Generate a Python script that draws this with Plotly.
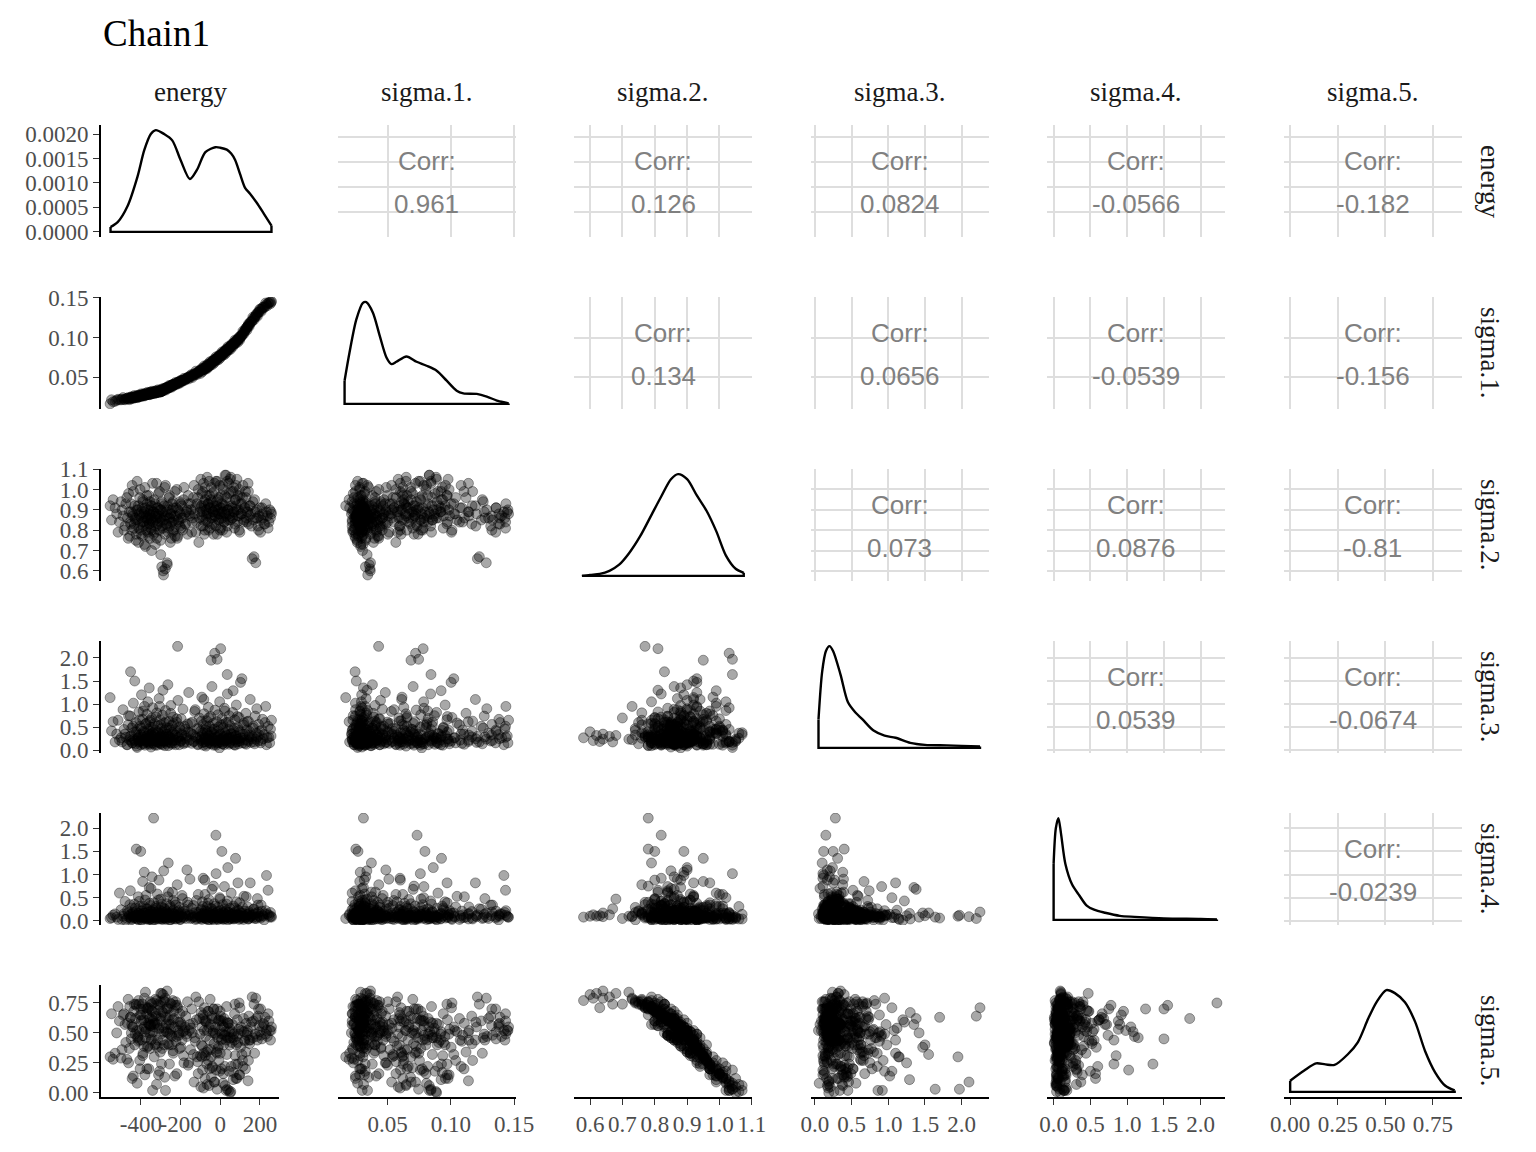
import plotly.graph_objects as go

# ---------------- data ----------------
var_labels = ["energy", "sigma.1.", "sigma.2.", "sigma.3.", "sigma.4.", "sigma.5."]

energy = [
    -555, -540, -522, -508, -495, -485, -476, -468, -462, -456,
    -452, -448, -444, -440, -436, -431, -427, -423, -419, -415,
    -412, -409, -406, -403, -401, -398, -395, -392, -389, -386,
    -383, -380, -377, -374, -371, -368, -365, -362, -360, -357,
    -355, -353, -351, -349, -347, -345, -342, -339, -336, -333,
    -330, -327, -324, -321, -318, -315, -312, -309, -306, -303,
    -301, -299, -297, -295, -292, -289, -286, -283, -280, -277,
    -274, -271, -268, -265, -262, -259, -256, -253, -250, -247,
    -244, -241, -238, -235, -231, -227, -223, -219, -215, -211,
    -207, -203, -199, -195, -190, -185, -180, -174, -168, -162,
    -156, -150, -144, -138, -132, -126, -120, -114, -108, -102,
    -98, -95, -92, -89, -86, -83, -80, -77, -74, -71,
    -68, -65, -62, -59, -56, -53, -49, -46, -43, -40,
    -37, -34, -31, -28, -25, -22, -19, -16, -13, -10,
    -7, -4, -1, 2, 5, 8, 11, 14, 17, 20,
    23, 26, 29, 32, 35, 38, 41, 44, 47, 50,
    53, 57, 61, 65, 68, 72, 75, 79, 82, 86,
    89, 93, 96, 99, 102, 107, 112, 117, 122, 127,
    131, 136, 140, 144, 148, 155, 161, 167, 173, 179,
    184, 190, 196, 203, 210, 217, 225, 233, 245, 258,
    -548, -530, -515, -500, -490, -480, -471, -464, -458, -453,
    -449, -446, -442, -438, -433, -429, -425, -421, -417, -413,
    -410, -407, -404, -400, -397, -394, -391, -388, -385, -382,
    -379, -376, -373, -370, -367, -364, -361, -358, -356, -354,
    -352, -350, -348, -346, -344, -341, -338, -335, -332, -329,
    -326, -323, -320, -317, -314, -311, -308, -305, -302, -300,
    -298, -296, -294, -291, -288, -285, -282, -279, -276, -273,
    -270, -267, -264, -261, -258, -255, -252, -249, -246, -243,
    -240, -237, -233, -229, -225, -221, -217, -213, -209, -205,
    -201, -197, -193, -188, -183, -177, -171, -165, -159, -153,
    -147, -141, -135, -129, -123, -117, -111, -105, -100, -96,
    -93, -90, -87, -84, -81, -78, -75, -72, -69, -66,
    -63, -60, -57, -54, -51, -48, -45, -42, -39, -36,
    -33, -30, -27, -24, -21, -18, -15, -12, -9, -6,
    -3, 0, 3, 6, 9, 12, 15, 18, 21, 24,
    27, 30, 33, 36, 39, 42, 45, 48, 51, 55,
    59, 63, 67, 70, 74, 77, 81, 84, 88, 91,
    95, 98, 104, 109, 114, 119, 124, 129, 134, 138,
    142, 146, 151, 158, 164, 170, 176, 182, 187, 193,
    199, 206, 213, 221, 229, 237, 241, 249, 253, 256,
]

sigma1 = [
    0.0168, 0.0195, 0.0213, 0.0219, 0.0225, 0.0222, 0.0232, 0.0235, 0.0228, 0.0240,
    0.0242, 0.0238, 0.0245, 0.0250, 0.0240, 0.0252, 0.0258, 0.0248, 0.0262, 0.0255,
    0.0260, 0.0268, 0.0263, 0.0270, 0.0265, 0.0272, 0.0275, 0.0268, 0.0280, 0.0276,
    0.0283, 0.0278, 0.0286, 0.0282, 0.0290, 0.0285, 0.0292, 0.0288, 0.0295, 0.0290,
    0.0298, 0.0293, 0.0300, 0.0296, 0.0302, 0.0299, 0.0305, 0.0300, 0.0308, 0.0304,
    0.0310, 0.0306, 0.0313, 0.0309, 0.0316, 0.0312, 0.0319, 0.0315, 0.0322, 0.0318,
    0.0325, 0.0321, 0.0328, 0.0324, 0.0332, 0.0336, 0.0342, 0.0353, 0.0349, 0.0360,
    0.0357, 0.0367, 0.0364, 0.0374, 0.0371, 0.0382, 0.0378, 0.0389, 0.0385, 0.0396,
    0.0393, 0.0403, 0.0400, 0.0410, 0.0409, 0.0420, 0.0418, 0.0430, 0.0428, 0.0439,
    0.0437, 0.0449, 0.0447, 0.0458, 0.0457, 0.0470, 0.0469, 0.0484, 0.0485, 0.0498,
    0.0505, 0.0518, 0.0512, 0.0532, 0.0531, 0.0550, 0.0548, 0.0566, 0.0564, 0.0582,
    0.0583, 0.0592, 0.0588, 0.0601, 0.0597, 0.0610, 0.0605, 0.0619, 0.0614, 0.0628,
    0.0622, 0.0639, 0.0633, 0.0650, 0.0644, 0.0661, 0.0668, 0.0684, 0.0679, 0.0696,
    0.0691, 0.0708, 0.0703, 0.0720, 0.0715, 0.0732, 0.0727, 0.0744, 0.0739, 0.0756,
    0.0751, 0.0768, 0.0763, 0.0780, 0.0776, 0.0794, 0.0789, 0.0807, 0.0802, 0.0820,
    0.0816, 0.0833, 0.0829, 0.0846, 0.0842, 0.0860, 0.0855, 0.0873, 0.0868, 0.0886,
    0.0882, 0.0903, 0.0901, 0.0922, 0.0918, 0.0939, 0.0935, 0.0956, 0.0952, 0.0972,
    0.0969, 0.0989, 0.0985, 0.1004, 0.1001, 0.1031, 0.1037, 0.1067, 0.1073, 0.1103,
    0.1106, 0.1136, 0.1138, 0.1164, 0.1167, 0.1202, 0.1209, 0.1240, 0.1248, 0.1279,
    0.1283, 0.1314, 0.1321, 0.1353, 0.1356, 0.1383, 0.1388, 0.1418, 0.1432, 0.1455,
    0.0219, 0.0199, 0.0225, 0.0218, 0.0246, 0.0219, 0.0234, 0.0246, 0.0221, 0.0245,
    0.0256, 0.0231, 0.0255, 0.0245, 0.0272, 0.0244, 0.0259, 0.0270, 0.0246, 0.0269,
    0.0280, 0.0255, 0.0278, 0.0268, 0.0294, 0.0266, 0.0279, 0.0290, 0.0265, 0.0288,
    0.0299, 0.0274, 0.0296, 0.0286, 0.0312, 0.0284, 0.0298, 0.0308, 0.0283, 0.0305,
    0.0315, 0.0289, 0.0311, 0.0301, 0.0326, 0.0298, 0.0311, 0.0322, 0.0297, 0.0320,
    0.0331, 0.0305, 0.0328, 0.0318, 0.0344, 0.0316, 0.0329, 0.0340, 0.0315, 0.0337,
    0.0347, 0.0322, 0.0344, 0.0334, 0.0362, 0.0335, 0.0351, 0.0364, 0.0340, 0.0365,
    0.0377, 0.0354, 0.0379, 0.0370, 0.0398, 0.0371, 0.0387, 0.0400, 0.0376, 0.0401,
    0.0413, 0.0390, 0.0416, 0.0409, 0.0437, 0.0412, 0.0429, 0.0443, 0.0421, 0.0446,
    0.0460, 0.0438, 0.0464, 0.0458, 0.0488, 0.0465, 0.0484, 0.0501, 0.0481, 0.0509,
    0.0534, 0.0498, 0.0541, 0.0529, 0.0578, 0.0536, 0.0565, 0.0588, 0.0550, 0.0592,
    0.0613, 0.0573, 0.0613, 0.0599, 0.0644, 0.0600, 0.0625, 0.0645, 0.0606, 0.0646,
    0.0667, 0.0627, 0.0667, 0.0653, 0.0698, 0.0654, 0.0680, 0.0701, 0.0662, 0.0703,
    0.0724, 0.0685, 0.0726, 0.0712, 0.0758, 0.0714, 0.0740, 0.0761, 0.0722, 0.0763,
    0.0784, 0.0745, 0.0787, 0.0773, 0.0820, 0.0776, 0.0803, 0.0825, 0.0786, 0.0828,
    0.0849, 0.0811, 0.0853, 0.0839, 0.0886, 0.0842, 0.0869, 0.0891, 0.0852, 0.0897,
    0.0922, 0.0886, 0.0931, 0.0918, 0.0968, 0.0925, 0.0954, 0.0977, 0.0941, 0.0983,
    0.1008, 0.0970, 0.1024, 0.1022, 0.1080, 0.1048, 0.1086, 0.1119, 0.1092, 0.1142,
    0.1171, 0.1141, 0.1193, 0.1196, 0.1255, 0.1224, 0.1263, 0.1297, 0.1268, 0.1323,
    0.1357, 0.1328, 0.1379, 0.1376, 0.1434, 0.1401, 0.1431, 0.1450, 0.1426, 0.1445,
]

sigma2 = [
    0.92, 0.95, 0.88, 0.84, 0.90, 0.80, 0.93, 0.86, 0.98, 0.77,
    0.83, 0.89, 1.02, 0.87, 0.81, 0.92, 0.85, 0.78, 1.04, 0.90,
    0.74, 0.88, 0.96, 0.83, 0.80, 0.86, 0.91, 0.77, 0.94, 0.84,
    0.89, 1.01, 0.72, 0.87, 0.82, 0.93, 0.79, 0.86, 0.97, 0.83,
    0.88, 0.76, 0.90, 0.85, 0.80, 0.92, 0.84, 0.89, 0.78, 0.95,
    0.87, 0.73, 0.82, 1.03, 0.86, 0.91, 0.80, 0.88, 0.99, 0.84,
    0.75, 0.90, 0.85, 0.62, 0.93, 0.81, 0.58, 0.87, 1.01, 0.61,
    0.83, 0.89, 0.64, 0.92, 0.79, 0.86, 0.97, 0.82, 0.88, 0.76,
    0.90, 0.84, 0.94, 0.80, 0.87, 0.77, 0.91, 1.00, 0.77, 0.85,
    0.89, 0.82, 0.93, 0.86, 0.80, 0.95, 0.88, 0.83, 0.90, 0.97,
    0.88, 0.93, 0.79, 0.86, 1.02, 0.91, 0.84, 0.96, 0.74, 0.89,
    1.05, 0.92, 0.87, 0.99, 0.82, 0.94, 0.78, 1.01, 0.90, 0.85,
    0.97, 0.88, 0.93, 0.80, 1.04, 0.91, 0.86, 0.95, 0.83, 0.98,
    0.89, 0.78, 0.92, 1.03, 0.87, 0.82, 0.94, 1.04, 0.90, 0.85,
    0.96, 0.88, 0.80, 0.81, 0.91, 0.89, 0.86, 1.02, 0.92, 0.84,
    0.97, 0.88, 1.07, 0.79, 1.04, 0.90, 0.85, 0.98, 0.87, 1.05,
    1.06, 0.92, 0.86, 0.99, 0.89, 0.81, 0.95, 1.02, 0.90, 0.84,
    0.97, 0.87, 1.00, 0.79, 0.93, 0.88, 0.96, 0.84, 0.91, 0.99,
    0.86, 0.89, 1.03, 0.83, 0.92, 0.88, 0.66, 0.85, 0.95, 0.64,
    0.90, 0.82, 0.87, 0.79, 0.91, 0.86, 0.83, 0.89, 0.84, 0.88,
    0.85, 0.91, 0.79, 0.94, 0.87, 0.82, 0.96, 0.76, 0.89, 0.84,
    0.93, 0.80, 0.88, 0.99, 0.83, 0.86, 0.75, 0.90, 0.85, 0.92,
    0.81, 0.87, 1.00, 0.78, 0.89, 0.84, 0.95, 0.82, 0.88, 0.73,
    0.91, 0.86, 0.80, 0.97, 0.85, 0.90, 0.77, 0.88, 0.83, 0.94,
    0.87, 0.81, 0.92, 0.70, 0.86, 1.03, 0.84, 0.89, 0.79, 0.93,
    0.85, 0.88, 0.76, 0.91, 0.83, 0.98, 0.87, 0.80, 0.90, 0.68,
    0.86, 0.94, 0.82, 0.89, 0.60, 0.85, 0.92, 0.78, 1.02, 0.87,
    0.83, 0.63, 0.90, 0.81, 0.96, 0.86, 0.74, 0.88, 0.84, 0.93,
    0.79, 0.91, 0.85, 0.99, 0.82, 0.87, 0.76, 0.90, 0.84, 0.94,
    0.88, 0.81, 0.92, 0.86, 1.01, 0.83, 0.89, 0.78, 0.93, 0.87,
    0.90, 0.84, 0.96, 0.88, 0.79, 0.93, 1.00, 0.86, 0.91, 0.82,
    0.98, 0.89, 0.85, 1.03, 0.92, 0.80, 0.95, 0.87, 0.90, 1.06,
    0.84, 0.93, 0.88, 0.97, 0.81, 0.91, 1.01, 0.86, 0.94, 0.89,
    0.83, 0.99, 0.90, 0.87, 1.04, 0.92, 0.78, 0.95, 0.88, 0.85,
    1.02, 0.91, 0.86, 0.97, 0.93, 0.80, 1.00, 0.89, 0.84, 1.07,
    0.92, 0.87, 0.96, 0.82, 0.90, 1.03, 0.88, 0.94, 0.85, 0.99,
    0.91, 0.86, 1.01, 0.89, 0.83, 0.95, 0.92, 1.05, 0.87, 0.90,
    0.80, 0.97, 0.88, 0.93, 1.02, 0.85, 0.91, 0.96, 0.84, 0.89,
    0.99, 0.87, 0.92, 0.82, 0.94, 0.67, 0.89, 0.86, 0.86, 0.80,
    0.91, 0.85, 0.88, 0.83, 0.93, 0.87, 0.81, 0.90, 0.86, 0.89,
]

sigma3 = [
    1.14, 0.62, 0.35, 0.22, 0.18, 0.45, 0.28, 0.12, 0.75, 0.30,
    1.70, 0.20, 0.16, 0.52, 0.24, 1.50, 0.14, 0.40, 0.06, 0.26,
    0.33, 0.18, 0.66, 0.21, 0.12, 0.48, 0.20, 0.29, 0.85, 0.15,
    0.38, 0.11, 0.24, 0.58, 0.19, 0.31, 1.05, 0.13, 0.42, 0.22,
    0.17, 0.65, 0.27, 0.07, 0.36, 0.21, 0.16, 0.50, 0.28, 0.14,
    0.34, 0.23, 0.72, 0.19, 0.11, 0.40, 0.25, 0.17, 0.95, 0.30,
    0.14, 0.55, 0.20, 0.32, 0.12, 1.30, 0.27, 0.18, 0.44, 0.21,
    0.62, 0.15, 0.35, 0.23, 0.10, 0.48, 0.29, 0.17, 0.80, 0.26,
    0.13, 0.39, 0.20, 0.58, 0.16, 0.33, 0.22, 0.68, 2.25, 0.28,
    0.12, 0.45, 0.19, 0.36, 0.24, 0.14, 0.52, 0.31, 0.17, 0.40,
    0.22, 0.58, 0.15, 0.34, 0.19, 0.88, 0.26, 0.12, 0.47, 0.29,
    0.21, 0.63, 0.16, 0.38, 0.11, 1.10, 0.24, 0.30, 0.18, 0.53,
    0.13, 0.41, 0.25, 0.70, 0.17, 0.32, 0.20, 1.95, 0.14, 0.45,
    0.23, 0.11, 0.36, 2.10, 0.19, 0.15, 0.28, 1.97, 0.16, 0.50,
    0.22, 0.05, 0.33, 2.20, 0.18, 0.25, 0.14, 0.56, 0.27, 0.12,
    0.85, 0.21, 0.34, 0.17, 1.64, 0.24, 0.61, 0.13, 0.29, 0.19,
    0.26, 0.36, 0.15, 1.29, 0.22, 0.48, 0.11, 0.32, 0.18, 0.73,
    0.25, 0.14, 0.43, 0.20, 1.47, 0.27, 0.16, 0.55, 0.22, 0.35,
    0.13, 0.62, 0.19, 0.29, 0.41, 0.17, 0.30, 0.52, 0.14, 0.24,
    0.90, 0.20, 0.33, 0.16, 0.44, 0.25, 0.60, 0.12, 0.28, 0.65,
    0.42, 0.18, 0.65, 0.27, 0.88, 0.35, 0.12, 0.55, 0.23, 0.74,
    0.31, 0.48, 0.16, 1.02, 0.39, 0.21, 0.60, 0.09, 0.45, 0.28,
    0.83, 0.19, 0.52, 0.34, 1.20, 0.25, 0.67, 0.14, 0.41, 0.95,
    0.22, 0.57, 0.30, 0.78, 0.17, 0.46, 0.36, 1.35, 0.26, 0.62,
    0.13, 0.50, 0.33, 0.70, 0.20, 0.92, 0.38, 0.24, 0.58, 0.11,
    0.44, 0.29, 0.81, 0.18, 0.53, 0.37, 1.12, 0.23, 0.66, 0.32,
    0.15, 0.47, 0.27, 0.76, 0.40, 0.21, 0.59, 0.10, 0.86, 0.35,
    0.49, 0.19, 1.42, 0.30, 0.63, 0.25, 0.43, 0.97, 0.16, 0.54,
    0.34, 0.72, 0.22, 0.45, 0.12, 0.61, 0.38, 1.08, 0.28, 0.51,
    0.20, 0.68, 0.33, 0.89, 0.17, 0.46, 0.26, 0.57, 1.25, 0.39,
    0.36, 0.61, 0.19, 0.84, 0.29, 0.47, 0.13, 0.70, 0.41, 0.24,
    1.15, 0.33, 0.56, 0.18, 0.79, 0.27, 0.44, 0.09, 0.64, 0.37,
    0.22, 0.93, 0.31, 0.52, 0.15, 0.73, 0.40, 1.38, 0.26, 0.58,
    0.20, 0.46, 0.87, 0.34, 0.11, 0.62, 0.29, 0.77, 0.42, 0.17,
    1.05, 0.35, 0.55, 0.23, 0.69, 0.14, 0.49, 0.30, 0.91, 0.38,
    0.21, 0.60, 0.32, 1.22, 0.26, 0.45, 0.75, 0.16, 0.53, 0.36,
    0.28, 0.82, 0.43, 0.12, 0.66, 0.31, 0.98, 0.24, 0.50, 0.19,
    0.71, 0.39, 0.27, 1.55, 0.35, 0.59, 0.15, 0.80, 0.44, 0.22,
    0.63, 0.33, 1.10, 0.25, 0.48, 0.18, 0.74, 0.37, 0.29, 0.56,
    0.41, 0.21, 0.67, 0.34, 0.95, 0.27, 0.52, 0.16, 0.46, 0.31,
]

sigma4 = [
    0.05, 0.12, 0.08, 0.60, 0.03, 0.15, 0.01, 0.22, 0.09, 0.35,
    0.06, 0.14, 0.04, 0.18, 0.07, 0.11, 0.28, 1.55, 0.05, 0.16,
    0.02, 0.42, 0.08, 0.13, 1.50, 0.03, 0.21, 0.06, 0.09, 0.32,
    1.05, 0.17, 0.10, 0.55, 0.04, 0.26, 0.07, 0.12, 0.03, 0.38,
    0.08, 0.15, 0.05, 0.70, 0.11, 0.19, 0.01, 0.24, 2.22, 0.06,
    0.14, 0.09, 0.31, 0.04, 0.18, 0.07, 0.45, 0.88, 0.12, 0.09,
    0.22, 0.05, 0.36, 0.10, 0.16, 0.04, 0.08, 0.27, 0.06, 0.13,
    0.03, 0.20, 0.09, 0.52, 1.25, 0.14, 0.07, 0.33, 0.02, 0.17,
    0.10, 0.62, 0.05, 0.23, 0.08, 0.40, 0.12, 0.04, 0.19, 0.07,
    0.29, 0.03, 0.15, 0.09, 0.48, 0.06, 0.21, 0.11, 1.10, 0.34,
    0.13, 0.05, 0.27, 0.09, 0.16, 0.03, 0.44, 0.07, 0.18, 0.10,
    0.05, 0.23, 0.08, 0.31, 0.92, 0.14, 0.06, 0.57, 0.11, 0.04,
    0.20, 0.08, 0.38, 0.12, 0.03, 0.16, 0.07, 0.10, 0.26, 0.05,
    0.13, 0.75, 0.01, 0.09, 0.32, 1.85, 0.06, 0.12, 0.04, 0.21,
    0.08, 0.15, 0.47, 0.05, 0.10, 1.50, 0.07, 0.03, 0.18, 0.09,
    0.26, 0.05, 0.14, 0.36, 0.08, 1.15, 0.19, 0.11, 0.05, 0.09,
    0.04, 0.13, 0.07, 0.16, 0.04, 0.28, 0.10, 0.06, 0.41, 0.09,
    0.82, 0.22, 0.12, 0.05, 0.17, 0.08, 0.30, 0.03, 0.11, 0.07,
    0.52, 0.14, 0.04, 0.20, 0.06, 0.09, 0.13, 0.25, 0.05, 0.17,
    0.08, 0.34, 0.11, 0.06, 0.21, 0.10, 0.15, 0.98, 0.12, 0.08,
    0.07, 0.15, 0.03, 0.24, 0.10, 0.42, 0.05, 0.18, 0.12, 0.65,
    0.02, 0.28, 0.09, 0.14, 0.36, 0.06, 0.20, 0.11, 0.04, 0.52,
    0.16, 0.08, 0.31, 0.13, 0.01, 0.22, 0.85, 0.07, 0.17, 0.10,
    0.45, 0.04, 0.26, 0.12, 0.06, 0.19, 0.09, 0.72, 0.14, 0.03,
    0.33, 0.08, 0.21, 0.05, 0.95, 0.15, 0.11, 0.39, 0.02, 0.18,
    0.07, 0.27, 0.13, 0.58, 0.09, 0.04, 0.23, 0.16, 0.06, 0.47,
    0.12, 0.30, 0.03, 0.19, 0.10, 1.08, 0.07, 0.25, 0.14, 0.05,
    0.37, 0.11, 0.08, 0.62, 0.17, 0.02, 0.29, 0.13, 0.06, 0.20,
    0.09, 0.44, 0.15, 0.04, 0.34, 0.10, 0.78, 0.07, 0.22, 0.12,
    0.03, 0.18, 0.55, 0.08, 0.26, 0.14, 0.05, 0.40, 0.11, 0.90,
    0.12, 0.06, 0.33, 0.09, 0.19, 0.04, 0.57, 0.14, 0.08, 0.25,
    0.03, 0.41, 0.11, 0.17, 0.07, 0.88, 0.22, 0.05, 0.13, 0.31,
    0.10, 0.02, 0.46, 0.16, 0.08, 0.27, 0.12, 0.68, 0.04, 0.20,
    0.15, 0.37, 0.06, 0.11, 1.02, 0.18, 0.09, 0.29, 0.03, 0.14,
    0.50, 0.07, 0.23, 0.12, 0.05, 0.35, 0.16, 0.10, 0.74, 0.04,
    0.21, 0.13, 0.08, 0.43, 0.02, 0.18, 0.11, 0.27, 0.06, 0.60,
    0.15, 0.09, 0.32, 0.05, 0.19, 1.35, 0.12, 0.07, 0.24, 0.14,
    0.03, 0.39, 0.10, 0.17, 0.06, 0.53, 0.21, 0.08, 0.13, 0.30,
    0.04, 0.16, 0.82, 0.11, 0.07, 0.26, 0.14, 0.05, 0.48, 0.19,
    0.09, 0.34, 0.12, 0.02, 0.22, 0.15, 0.66, 0.08, 0.18, 0.10,
]

sigma5 = [
    0.30, 0.28, 0.50, 0.60, 0.36, 0.66, 0.42, 0.58, 0.25, 0.72,
    0.63, 0.50, 0.12, 0.55, 0.68, 0.40, 0.62, 0.73, 0.08, 0.47,
    0.77, 0.52, 0.27, 0.65, 0.70, 0.60, 0.44, 0.74, 0.33, 0.61,
    0.55, 0.15, 0.84, 0.53, 0.66, 0.38, 0.71, 0.58, 0.20, 0.62,
    0.56, 0.76, 0.48, 0.57, 0.69, 0.45, 0.63, 0.51, 0.75, 0.30,
    0.58, 0.78, 0.64, 0.07, 0.57, 0.44, 0.69, 0.53, 0.18, 0.62,
    0.76, 0.49, 0.60, 0.83, 0.37, 0.67, 0.77, 0.54, 0.13, 0.79,
    0.63, 0.51, 0.85, 0.41, 0.70, 0.57, 0.24, 0.65, 0.53, 0.74,
    0.47, 0.61, 0.35, 0.68, 0.55, 0.73, 0.43, 0.16, 0.71, 0.59,
    0.50, 0.66, 0.38, 0.57, 0.68, 0.31, 0.52, 0.64, 0.47, 0.23,
    0.52, 0.36, 0.70, 0.58, 0.09, 0.43, 0.61, 0.26, 0.76, 0.49,
    0.05, 0.40, 0.55, 0.19, 0.65, 0.33, 0.71, 0.12, 0.47, 0.59,
    0.24, 0.52, 0.36, 0.68, 0.06, 0.44, 0.57, 0.30, 0.64, 0.21,
    0.50, 0.70, 0.41, 0.09, 0.55, 0.62, 0.34, 0.03, 0.46, 0.60,
    0.27, 0.52, 0.68, 0.64, 0.44, 0.45, 0.56, 0.08, 0.40, 0.62,
    0.22, 0.51, 0.02, 0.72, 0.03, 0.46, 0.58, 0.18, 0.54, 0.00,
    0.01, 0.42, 0.57, 0.11, 0.49, 0.66, 0.31, 0.12, 0.47, 0.61,
    0.24, 0.53, 0.15, 0.71, 0.38, 0.52, 0.27, 0.62, 0.44, 0.20,
    0.58, 0.50, 0.10, 0.64, 0.41, 0.55, 0.80, 0.60, 0.33, 0.79,
    0.47, 0.64, 0.56, 0.70, 0.45, 0.58, 0.63, 0.52, 0.60, 0.55,
    0.66, 0.33, 0.72, 0.29, 0.65, 0.57, 0.28, 0.78, 0.37, 0.63,
    0.45, 0.57, 0.55, 0.14, 0.74, 0.49, 0.74, 0.52, 0.46, 0.43,
    0.74, 0.44, 0.20, 0.65, 0.61, 0.53, 0.31, 0.70, 0.39, 0.79,
    0.51, 0.46, 0.71, 0.20, 0.70, 0.39, 0.71, 0.57, 0.50, 0.37,
    0.62, 0.56, 0.44, 0.74, 0.68, 0.02, 0.60, 0.55, 0.57, 0.40,
    0.66, 0.41, 0.77, 0.38, 0.74, 0.15, 0.54, 0.73, 0.34, 0.83,
    0.64, 0.24, 0.68, 0.44, 0.82, 0.51, 0.40, 0.76, 0.02, 0.57,
    0.70, 0.71, 0.50, 0.61, 0.40, 0.49, 0.75, 0.57, 0.48, 0.40,
    0.77, 0.33, 0.62, 0.14, 0.76, 0.47, 0.73, 0.52, 0.48, 0.37,
    0.59, 0.56, 0.44, 0.51, 0.25, 0.55, 0.49, 0.76, 0.25, 0.57,
    0.54, 0.50, 0.32, 0.46, 0.80, 0.30, 0.16, 0.62, 0.31, 0.67,
    0.30, 0.39, 0.62, 0.04, 0.52, 0.60, 0.31, 0.60, 0.34, 0.07,
    0.68, 0.27, 0.55, 0.20, 0.78, 0.36, 0.13, 0.62, 0.22, 0.52,
    0.70, 0.09, 0.50, 0.49, 0.19, 0.33, 0.70, 0.37, 0.39, 0.61,
    0.18, 0.33, 0.60, 0.20, 0.49, 0.60, 0.16, 0.55, 0.48, 0.06,
    0.48, 0.44, 0.32, 0.59, 0.58, 0.02, 0.51, 0.40, 0.46, 0.22,
    0.51, 0.46, 0.17, 0.44, 0.74, 0.24, 0.40, 0.12, 0.42, 0.49,
    0.75, 0.15, 0.55, 0.32, 0.22, 0.51, 0.43, 0.34, 0.48, 0.52,
    0.27, 0.44, 0.44, 0.59, 0.46, 0.74, 0.49, 0.62, 0.44, 0.70,
    0.51, 0.48, 0.55, 0.57, 0.49, 0.47, 0.66, 0.52, 0.44, 0.52,
]

# density curves read from the diagonal panels (energy in real units,
# the others as height relative to their peak)
energy_dens_x = [-553, -517, -467, -417, -383, -350, -325, -283, -242, -200, -153,
                 -117, -75, -25, 0, 33, 55, 75, 100, 125, 150, 183, 220, 258]
energy_dens_y = [0.00010, 0.00020, 0.00053, 0.00113, 0.00167, 0.00200, 0.00208,
                 0.00200, 0.00187, 0.00147, 0.00108, 0.00127, 0.00163, 0.00173,
                 0.00172, 0.00168, 0.00160, 0.00147, 0.00118, 0.00090, 0.00078,
                 0.00060, 0.00037, 0.00013]
sigma1_dens_x = [0.0159, 0.0198, 0.0252, 0.0304, 0.0331, 0.0383, 0.0437, 0.0490,
                 0.0529, 0.0569, 0.0648, 0.0728, 0.0807, 0.0887, 0.0966, 0.1045,
                 0.1098, 0.1204, 0.1283, 0.1363, 0.1442, 0.1455]
sigma1_dens_y = [0.228, 0.505, 0.83, 0.993, 1.0, 0.896, 0.668, 0.456, 0.391, 0.414,
                 0.466, 0.414, 0.375, 0.326, 0.228, 0.130, 0.104, 0.098, 0.072,
                 0.033, 0.010, 0.005]
sigma2_dens_x = [0.575, 0.60, 0.63, 0.66, 0.69, 0.72, 0.755, 0.79, 0.82, 0.85, 0.872,
                 0.90, 0.93, 0.96, 0.99, 1.02, 1.05, 1.075]
sigma2_dens_y = [0.0, 0.01, 0.02, 0.05, 0.11, 0.22, 0.39, 0.60, 0.78, 0.95, 1.0,
                 0.95, 0.79, 0.64, 0.44, 0.20, 0.07, 0.03]
sigma3_dens_x = [0.05, 0.10, 0.15, 0.20, 0.25, 0.35, 0.45, 0.55, 0.65, 0.80, 0.95,
                 1.10, 1.30, 1.50, 1.80, 2.00, 2.25]
sigma3_dens_y = [0.28, 0.75, 0.95, 1.0, 0.95, 0.72, 0.45, 0.35, 0.28, 0.17, 0.12,
                 0.10, 0.05, 0.03, 0.025, 0.02, 0.015]
sigma4_dens_x = [0.0, 0.03, 0.065, 0.10, 0.16, 0.25, 0.35, 0.45, 0.55, 0.70, 0.90,
                 1.10, 1.50, 2.00, 2.22]
sigma4_dens_y = [0.55, 0.90, 1.0, 0.85, 0.55, 0.35, 0.24, 0.14, 0.10, 0.07, 0.04,
                 0.03, 0.015, 0.01, 0.005]
sigma5_dens_x = [0.0, 0.074, 0.136, 0.185, 0.233, 0.303, 0.356, 0.41, 0.453, 0.505,
                 0.55, 0.603, 0.656, 0.709, 0.762, 0.815, 0.864]
sigma5_dens_y = [0.11, 0.21, 0.28, 0.27, 0.265, 0.37, 0.49, 0.72, 0.88, 1.0, 0.97,
                 0.88, 0.69, 0.40, 0.19, 0.06, 0.015]

# correlation labels of the upper panels, row by row
corr_row1 = ["0.961", "0.126", "0.0824", "-0.0566", "-0.182"]
corr_row2 = ["0.134", "0.0656", "-0.0539", "-0.156"]
corr_row3 = ["0.073", "0.0876", "-0.81"]
corr_row4 = ["0.0539", "-0.0674"]
corr_row5 = ["-0.0239"]

# axis breaks / labels
energy_ticks = [-400, -200, 0, 200]
energy_ticktext = ["-400", "-200", "0", "200"]
sigma1_ticks = [0.05, 0.10, 0.15]
sigma1_ticktext = ["0.05", "0.10", "0.15"]
sigma2_ticks = [0.6, 0.7, 0.8, 0.9, 1.0, 1.1]
sigma2_ticktext = ["0.6", "0.7", "0.8", "0.9", "1.0", "1.1"]
sigma3_ticks = [0.0, 0.5, 1.0, 1.5, 2.0]
sigma3_ticktext = ["0.0", "0.5", "1.0", "1.5", "2.0"]
sigma4_ticks = [0.0, 0.5, 1.0, 1.5, 2.0]
sigma4_ticktext = ["0.0", "0.5", "1.0", "1.5", "2.0"]
sigma5_ticks = [0.0, 0.25, 0.5, 0.75]
sigma5_ticktext = ["0.00", "0.25", "0.50", "0.75"]
energy_density_ticks = [0.0, 0.0005, 0.0010, 0.0015, 0.0020]
energy_density_ticktext = ["0.0000", "0.0005", "0.0010", "0.0015", "0.0020"]
energy_grid = [-600, -400, -200, 0, 200]

# ---------------- figure ----------------
data = [energy, sigma1, sigma2, sigma3, sigma4, sigma5]
dens = [(energy_dens_x, energy_dens_y), (sigma1_dens_x, sigma1_dens_y),
        (sigma2_dens_x, sigma2_dens_y), (sigma3_dens_x, sigma3_dens_y),
        (sigma4_dens_x, sigma4_dens_y), (sigma5_dens_x, sigma5_dens_y)]
corr = [corr_row1, corr_row2, corr_row3, corr_row4, corr_row5]
ticks = [energy_ticks, sigma1_ticks, sigma2_ticks, sigma3_ticks, sigma4_ticks, sigma5_ticks]
ticktexts = [energy_ticktext, sigma1_ticktext, sigma2_ticktext, sigma3_ticktext,
             sigma4_ticktext, sigma5_ticktext]
grids = [energy_grid, sigma1_ticks, sigma2_ticks, sigma3_ticks, sigma4_ticks, sigma5_ticks]
ranges = [[-601, 296], [0.0103, 0.151], [0.5505, 1.1005], [-0.059, 2.366],
          [-0.09, 2.33], [-0.035, 0.90]]

W, H = 1536, 1152
col_left = [101, 337.5, 574, 810.5, 1047, 1283.5]
row_top = [125, 297, 469, 641, 813, 985]
PW, PH = 178, 112

SERIF = "Liberation Serif"
SANS = "Liberation Sans"
TICKFONT = dict(family=SERIF, size=23, color="#4D4D4D")
GRID = "#DEDEDE"
PT_COLOR = "rgba(0,0,0,0.34)"


def shown(vals, texts):
    return dict(showline=True, linecolor="black", linewidth=1.6, ticks="outside",
                ticklen=6, tickwidth=1.3, tickcolor="#333333", tickvals=vals,
                ticktext=texts, showticklabels=True, tickfont=TICKFONT, tickangle=0)


fig = go.Figure()
layout = {}
annotations = []
n = 6
for i in range(n):
    for j in range(n):
        k = i * n + j + 1
        sfx = "" if k == 1 else str(k)
        xa = dict(domain=[col_left[j] / W, (col_left[j] + PW) / W], anchor="y" + sfx,
                  range=ranges[j], showgrid=False, zeroline=False, showline=False,
                  showticklabels=False, ticks="", fixedrange=True, automargin=False)
        ya = dict(domain=[1 - (row_top[i] + PH) / H, 1 - row_top[i] / H], anchor="x" + sfx,
                  range=ranges[i], showgrid=False, zeroline=False, showline=False,
                  showticklabels=False, ticks="", fixedrange=True, automargin=False)
        if i > j:
            fig.add_trace(go.Scatter(
                x=data[j], y=data[i], mode="markers", xaxis="x" + sfx, yaxis="y" + sfx,
                marker=dict(size=10, color=PT_COLOR, line=dict(width=1, color=PT_COLOR)),
                hoverinfo="skip", showlegend=False))
            if j == 0:
                ya.update(shown(ticks[i], ticktexts[i]))
            if i == n - 1:
                xa.update(shown(ticks[j], ticktexts[j]))
        elif i == j:
            dx, dy = dens[i]
            m = max(dy)
            ya["range"] = [-0.05 * m, 1.05 * m]
            fig.add_trace(go.Scatter(
                x=dx, y=dy, mode="lines", xaxis="x" + sfx, yaxis="y" + sfx,
                line=dict(color="black", width=2.4, shape="spline", smoothing=0.8),
                hoverinfo="skip", showlegend=False))
            fig.add_trace(go.Scatter(
                x=[dx[-1], dx[-1], dx[0], dx[0]], y=[dy[-1], 0, 0, dy[0]],
                mode="lines", xaxis="x" + sfx, yaxis="y" + sfx,
                line=dict(color="black", width=2.4), hoverinfo="skip", showlegend=False))
            if i == 0:
                ya.update(shown(energy_density_ticks, energy_density_ticktext))
            if i == n - 1:
                xa.update(shown(ticks[j], ticktexts[j]))
        else:
            xa.update(showgrid=True, gridcolor=GRID, gridwidth=1.5, tickvals=grids[j])
            ya.update(showgrid=True, gridcolor=GRID, gridwidth=1.5, tickvals=grids[i])
            fig.add_trace(go.Scatter(x=[None], y=[None], xaxis="x" + sfx, yaxis="y" + sfx,
                                     showlegend=False, hoverinfo="skip"))
            cx = (col_left[j] + PW / 2) / W
            cy = row_top[i] + PH / 2
            annotations.append(dict(text="Corr:", x=cx, y=1 - (cy - 20) / H,
                                    xref="paper", yref="paper", showarrow=False,
                                    xanchor="center", yanchor="middle",
                                    font=dict(family=SANS, size=26, color="#808080")))
            annotations.append(dict(text=corr[i][j - i - 1], x=cx, y=1 - (cy + 23) / H,
                                    xref="paper", yref="paper", showarrow=False,
                                    xanchor="center", yanchor="middle",
                                    font=dict(family=SANS, size=26, color="#808080")))
        layout["xaxis" + sfx] = xa
        layout["yaxis" + sfx] = ya

# strip labels
for j in range(n):
    annotations.append(dict(text=var_labels[j], x=(col_left[j] + PW / 2) / W, y=1 - 92 / H,
                            xref="paper", yref="paper", showarrow=False,
                            xanchor="center", yanchor="middle",
                            font=dict(family=SERIF, size=27, color="#1A1A1A")))
for i in range(n):
    annotations.append(dict(text=var_labels[i], x=1490 / W, y=1 - (row_top[i] + PH / 2) / H,
                            xref="paper", yref="paper", showarrow=False, textangle=90,
                            xanchor="center", yanchor="middle",
                            font=dict(family=SERIF, size=27, color="#1A1A1A")))
# title
annotations.append(dict(text="Chain1", x=101 / W, y=1 - 33 / H, xref="paper", yref="paper",
                        showarrow=False, xanchor="left", yanchor="middle",
                        font=dict(family=SERIF, size=37, color="black")))

fig.update_layout(**layout)
fig.update_layout(width=W, height=H, margin=dict(l=0, r=0, t=0, b=0, pad=0),
                  autosize=False, paper_bgcolor="white", plot_bgcolor="white",
                  showlegend=False, annotations=annotations)

fig.write_html("out.html", config={"displayModeBar": False},
               post_script="document.body.style.margin='0px';")
